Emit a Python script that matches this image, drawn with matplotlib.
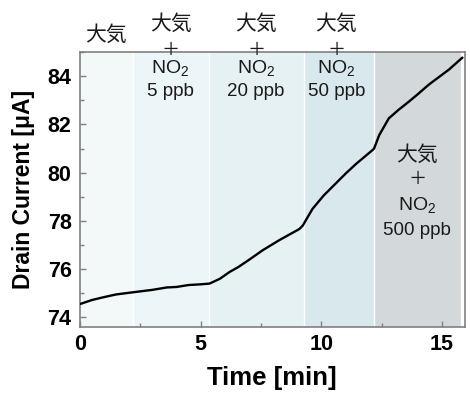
import matplotlib
matplotlib.use("Agg")
import matplotlib.pyplot as plt
from matplotlib.ticker import MultipleLocator

plt.rcParams['font.family'] = ['Liberation Sans', 'Noto Sans CJK JP', 'DejaVu Sans']
plt.rcParams['mathtext.fontset'] = 'custom'
plt.rcParams['mathtext.rm'] = 'Liberation Sans'
plt.rcParams['mathtext.it'] = 'Liberation Sans'

# data
time_min = [0.0, 0.5, 1.0, 1.5, 2.2, 3.0, 3.6, 4.0, 4.5, 5.0, 5.37, 5.8, 6.2, 6.57,
            7.0, 7.57, 8.26, 9.09, 9.23, 9.64, 10.1, 10.6, 11.0, 11.43, 12.12,
            12.19, 12.4, 12.8, 13.2, 13.64, 14.0, 14.46, 14.9, 15.29, 15.84]
current_uA = [74.55, 74.72, 74.84, 74.95, 75.04, 75.14, 75.24, 75.26, 75.34, 75.37, 75.4, 75.6, 75.88, 76.09,
              76.38, 76.78, 77.2, 77.66, 77.8, 78.5, 79.05, 79.55, 79.95, 80.35, 80.93,
              81.0, 81.55, 82.25, 82.6, 82.95, 83.25, 83.65, 83.98, 84.27, 84.76]
region_edges = [0.0, 2.2, 5.33, 9.3, 12.2, 15.8]
region_colors = ['#f3f8f9', '#ecf5f7', '#e5f1f3', '#d9e8ec', '#d3d8db']
region_labels = [['大気'],
                 ['大気', '＋', 'NO$_2$', '5 ppb'],
                 ['大気', '＋', 'NO$_2$', '20 ppb'],
                 ['大気', '＋', 'NO$_2$', '50 ppb'],
                 ['大気', '＋', 'NO$_2$', '500 ppb']]
x_ticks = [0, 5, 10, 15]
y_ticks = [74, 76, 78, 80, 82, 84]

fig = plt.figure(figsize=(4.7, 3.94), dpi=100)
ax = fig.add_axes([0.170, 0.170, 0.819, 0.698])

for i in range(len(region_colors)):
    ax.axvspan(region_edges[i], region_edges[i + 1], color=region_colors[i], lw=0, zorder=0)
for e in region_edges[1:]:
    ax.axvline(e, color='white', lw=1.0, zorder=0.5)

ax.plot(time_min, current_uA, color='black', lw=1.7, zorder=3)

ax.set_xlim(0, 15.95)
ax.set_ylim(73.6, 85.0)
ax.set_xticks(x_ticks)
ax.set_yticks(y_ticks)
ax.xaxis.set_minor_locator(MultipleLocator(2.5))
ax.yaxis.set_minor_locator(MultipleLocator(1))
ax.tick_params(which='both', direction='in', color='#808080', top=False, right=False)
ax.tick_params(which='major', length=4, width=1)
ax.tick_params(which='minor', length=3, width=1)
for lab in ax.get_xticklabels() + ax.get_yticklabels():
    lab.set_fontweight('bold')
    lab.set_fontsize(15.5)
ax.tick_params(axis='x', pad=5)
ax.tick_params(axis='y', pad=6)
for s in ax.spines.values():
    s.set_color('#808080')
    s.set_linewidth(1.2)

ax.set_xlabel('Time [min]', fontsize=18.5, fontweight='bold', labelpad=8)
ax.set_ylabel('Drain Current [μA]', fontsize=16.5, fontweight='bold')
ax.yaxis.set_label_coords(-0.117, 0.5)

txt_color = '#1a1a1a'
sizes = [15, 13, 14, 13.5]


def put(x, y, t, k, clip):
    ax.text(x, y, t, ha='center', va='center', fontsize=sizes[k], color=txt_color,
            clip_on=clip, zorder=4)


# annotations
put(1.1, 85.72, region_labels[0][0], 0, False)
top_y = [86.16, 85.08, 84.33, 83.36]
centers = [3.76, 7.3, 10.62]
for c, labels in zip(centers, region_labels[1:4]):
    for k, (yy, t) in enumerate(zip(top_y, labels)):
        put(c, yy, t, k, False)
bottom_y = [80.72, 79.72, 78.64, 77.6]
for k, (yy, t) in enumerate(zip(bottom_y, region_labels[4])):
    put(13.97, yy, t, k, True)

fig.savefig('out.png', dpi=100)
